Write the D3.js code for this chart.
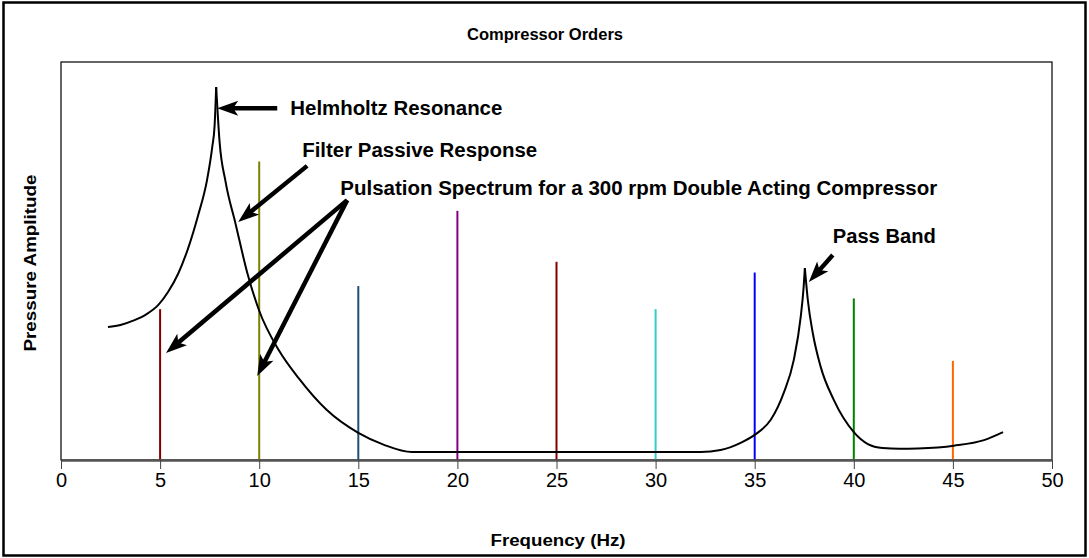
<!DOCTYPE html>
<meta charset="utf-8">
<style>
body { margin: 0; background: #fff; }
text { font-family: "Liberation Sans", Arial, sans-serif; }
.bold { font-weight: bold; }
.axis text { font-size: 20px; fill: #000; }
.axis .domain { stroke: #555; stroke-width: 2.5px; }
.axis .tick line { stroke: #444; stroke-width: 1px; }
</style>
<svg width="1089" height="558"></svg>
<script src="https://d3js.org/d3.v7.min.js"></script>
<script>

// harmonic orders of the compressor (Hz) and their pulsation amplitude
var orderFreq = [5, 10, 15, 20, 25, 30, 35, 40, 45];
var orderAmp  = [37.9, 75.0, 43.7, 62.6, 49.8, 37.9, 47.1, 40.6, 24.9];
var orderColor = ["#800000", "#808000", "#1F4E79", "#800080", "#800000",
                  "#33CCCC", "#0000FF", "#008000", "#FF6600"];

// filter passive response
var respFreq = [2.37, 3.0, 3.64, 4.3, 4.9, 5.4, 5.91, 6.4, 6.92, 7.37, 7.63, 7.75, 7.83,
                8.0, 8.3, 8.8, 9.4, 10.0, 11.0, 12.0, 13.4, 15.0, 16.3, 17.7,
                32.27, 33.28, 34.29, 35.05, 35.81, 36.46, 36.97, 37.32, 37.47, 37.53,
                37.68, 37.93, 38.33, 38.99, 40.0, 40.71, 41.46, 42.3, 43.23, 45.05, 46.57, 47.53];
var respAmp  = [33.4, 33.9, 35.0, 36.6, 38.9, 42.2, 46.8, 53.0, 61.5, 70.4, 78.6, 84.0, 93.7,
                80.0, 70.0, 59.5, 47.0, 37.5, 27.5, 20.5, 12.6, 6.8, 3.8, 2.0,
                2.0, 2.5, 4.3, 6.5, 10.1, 16.8, 25.1, 35.9, 43.5, 48.2,
                40.2, 31.9, 23.4, 15.1, 7.0, 4.0, 3.0, 2.8, 2.9, 3.6, 5.0, 7.0];

var xTicks = [0, 5, 10, 15, 20, 25, 30, 35, 40, 45, 50];

// annotations in data units: text anchor, arrows [from f, from a, to f, to a]
var notes = [
  { text: "Helmholtz Resonance", f: 11.57, a: 88.4, w: 212, arrows: [[10.91, 88.4, 7.88, 88.4]] },
  { text: "Filter Passive Response", f: 12.17, a: 77.9, w: 235, arrows: [[12.42, 73.9, 8.94, 59.8]] },
  { text: "Pulsation Spectrum for a 300 rpm Double Acting Compressor", f: 14.09, a: 68.4, w: 597,
    arrows: [[14.44, 65.3, 5.30, 26.9], [14.44, 65.3, 9.90, 21.1]] },
  { text: "Pass Band", f: 38.94, a: 56.3, w: 103, arrows: [[38.94, 51.5, 37.73, 44.7]] }
];

var svg = d3.select("svg"),
    width = +svg.attr("width"),
    height = +svg.attr("height");

var x = d3.scaleLinear().domain([0, 50]).range([61, 1052]);
var y = d3.scaleLinear().domain([0, 100]).range([460, 62]);

// outer chart frame
svg.append("rect")
    .attr("x", 3.5).attr("y", 2.5)
    .attr("width", width - 7).attr("height", height - 5)
    .attr("fill", "none").attr("stroke", "#000").attr("stroke-width", 2.5);

// plot area frame
svg.append("rect")
    .attr("x", x(0)).attr("y", y(100))
    .attr("width", x(50) - x(0)).attr("height", y(0) - y(100))
    .attr("fill", "none").attr("stroke", "#000").attr("stroke-width", 1.2);

svg.append("text")
    .attr("class", "bold")
    .attr("x", 545).attr("y", 40)
    .attr("text-anchor", "middle")
    .attr("textLength", 156).attr("lengthAdjust", "spacingAndGlyphs")
    .style("font-size", "16px")
    .text("Compressor Orders");

/************* STEMS ***************/
svg.append("g").selectAll("line")
    .data(orderFreq)
    .enter().append("line")
      .attr("x1", function(d) { return x(d); })
      .attr("x2", function(d) { return x(d); })
      .attr("y1", y(0))
      .attr("y2", function(d, i) { return y(orderAmp[i]); })
      .attr("stroke", function(d, i) { return orderColor[i]; })
      .attr("stroke-width", 2);

/************* RESPONSE CURVE ***************/
// split at the peaks so the resonances stay sharp
var pts = respFreq.map(function(f, i) { return [f, respAmp[i]]; });
var segs = [], cur = [];
pts.forEach(function(p, i) {
  cur.push(p);
  var isPeak = i > 0 && i < pts.length - 1 && p[1] > pts[i - 1][1] && p[1] > pts[i + 1][1];
  if (isPeak) { segs.push(cur); cur = [p]; }
});
segs.push(cur);

var line = d3.line()
    .x(function(d) { return x(d[0]); })
    .y(function(d) { return y(d[1]); })
    .curve(d3.curveMonotoneX);

svg.append("g").selectAll("path")
    .data(segs)
    .enter().append("path")
      .attr("d", line)
      .attr("fill", "none")
      .attr("stroke", "#000")
      .attr("stroke-width", 2);

/************* AXIS ***************/
svg.append("g")
    .attr("class", "axis")
    .attr("transform", "translate(0," + y(0) + ")")
    .call(d3.axisBottom(x).tickValues(xTicks).tickSize(9).tickPadding(4).tickSizeOuter(0));

svg.append("text")
    .attr("class", "bold")
    .attr("x", 558).attr("y", 546)
    .attr("text-anchor", "middle")
    .attr("textLength", 135).attr("lengthAdjust", "spacingAndGlyphs")
    .style("font-size", "16px")
    .text("Frequency (Hz)");

svg.append("text")
    .attr("class", "bold")
    .attr("transform", "translate(36,263) rotate(-90)")
    .attr("text-anchor", "middle")
    .attr("textLength", 177).attr("lengthAdjust", "spacingAndGlyphs")
    .style("font-size", "16px")
    .text("Pressure Amplitude");

/************* ANNOTATIONS ***************/
var HEAD = 21, HALF = 7.5;
var ann = svg.append("g");
notes.forEach(function(n) {
  ann.append("text")
      .attr("class", "bold")
      .attr("x", x(n.f)).attr("y", y(n.a))
      .attr("dy", "0.35em")
      .attr("textLength", n.w).attr("lengthAdjust", "spacingAndGlyphs")
      .style("font-size", "20px")
      .text(n.text);
  n.arrows.forEach(function(a) {
    var x1 = x(a[0]), y1 = y(a[1]), x2 = x(a[2]), y2 = y(a[3]);
    var dx = x2 - x1, dy = y2 - y1, len = Math.sqrt(dx * dx + dy * dy);
    var ux = dx / len, uy = dy / len;
    ann.append("line")
        .attr("x1", x1).attr("y1", y1)
        .attr("x2", x2 - ux * (HEAD - 6)).attr("y2", y2 - uy * (HEAD - 6))
        .attr("stroke", "#000").attr("stroke-width", 4.5);
    var bx = x2 - ux * HEAD, by = y2 - uy * HEAD;
    var nx = x2 - ux * (HEAD - 5), ny = y2 - uy * (HEAD - 5);
    ann.append("path")
        .attr("d", "M" + x2 + "," + y2 +
                   "L" + (bx - uy * HALF) + "," + (by + ux * HALF) +
                   "L" + nx + "," + ny +
                   "L" + (bx + uy * HALF) + "," + (by - ux * HALF) + "Z")
        .attr("fill", "#000");
  });
});

</script>
